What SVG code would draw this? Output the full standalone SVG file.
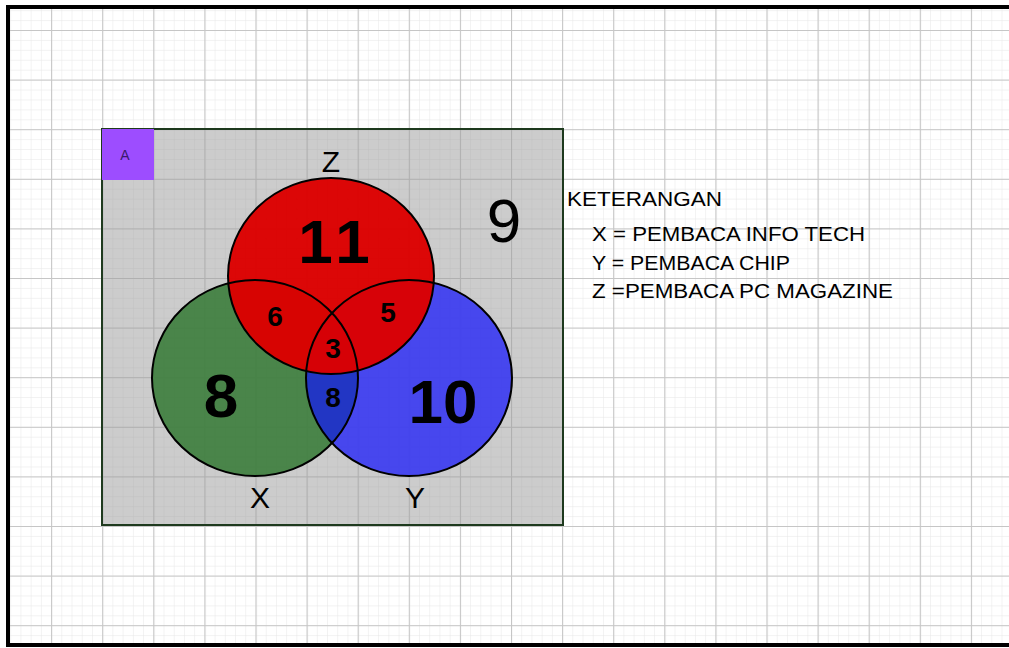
<svg xmlns="http://www.w3.org/2000/svg" width="1009" height="648" viewBox="0 0 1009 648">
<style>
text{font-family:"Liberation Sans",Arial,sans-serif;fill:#000}
.b{font-weight:bold}
.lbl{font-size:30px;text-anchor:middle}
.big{font-size:62px;text-anchor:middle}
.sm{font-size:28px;text-anchor:middle;font-weight:bold}
.leg{font-size:20px}
.ol{fill:none;stroke:#000;stroke-width:2}
</style>
<defs>
<pattern id="minor" x="0" y="30" width="10.22" height="9.92" patternUnits="userSpaceOnUse">
<path d="M0 0V9.92M0 0H10.22" fill="none" stroke="#e6e6e6" stroke-width="1"/>
</pattern>
<pattern id="major" x="0" y="30" width="51.1" height="49.6" patternUnits="userSpaceOnUse">
<path d="M0.5 0V49.6M0 0.5H51.1" fill="none" stroke="#c6c6c6" stroke-width="1.2"/>
</pattern>
<clipPath id="cX"><ellipse cx="255" cy="378" rx="103" ry="98"/></clipPath>
</defs>
<rect width="1009" height="648" fill="#fff"/>
<g id="grid">
<rect x="8" y="7" width="1003" height="638" fill="url(#minor)"/>
<rect x="8" y="7" width="1003" height="638" fill="url(#major)"/>
</g>
<rect id="frame" x="8" y="7" width="1010" height="638" fill="none" stroke="#000" stroke-width="4"/>
<g id="universe">
<rect x="102" y="129" width="461" height="396" fill="#9a9a9a" fill-opacity="0.5" stroke="#1e3a1e" stroke-width="2"/>
</g>
<g id="label-A">
<rect x="102" y="129" width="52" height="51" fill="#9d4dff"/>
<text x="125" y="160" font-size="14" text-anchor="middle" style="fill:#3a1a6a">A</text>
</g>
<g id="set-X">
<ellipse cx="255" cy="378" rx="103" ry="98" fill="#3f7f3f" fill-opacity="0.93"/>
</g>
<g id="set-Y">
<ellipse cx="409" cy="378" rx="103" ry="98" fill="#3c3cf0" fill-opacity="0.93"/>
<ellipse clip-path="url(#cX)" cx="409" cy="378" rx="103" ry="98" fill="#2236c4"/>
</g>
<g id="set-Z">
<ellipse cx="331" cy="276" rx="103" ry="98" fill="#dc0000" fill-opacity="0.97"/>
</g>
<g id="outlines">
<ellipse class="ol" cx="255" cy="378" rx="103" ry="98"/>
<ellipse class="ol" cx="409" cy="378" rx="103" ry="98"/>
<ellipse class="ol" cx="331" cy="276" rx="103" ry="98"/>
</g>
<g id="values">
<text class="lbl" x="331" y="172">Z</text>
<text class="lbl" x="260" y="508">X</text>
<text class="lbl" x="415" y="508">Y</text>
<text class="big b" x="337" y="263" font-size="60" letter-spacing="6">11</text>
<text class="big" x="504" y="242">9</text>
<text class="big b" x="221" y="417" font-size="58">8</text>
<text class="big b" x="443" y="423">10</text>
<text class="sm" x="275" y="326">6</text>
<text class="sm" x="388" y="322">5</text>
<text class="sm" x="333" y="358">3</text>
<text class="sm" x="333" y="407">8</text>
</g>
<g id="legend">
<text class="leg" x="567" y="206" textLength="155" lengthAdjust="spacingAndGlyphs">KETERANGAN</text>
<text class="leg" x="592" y="241" textLength="273" lengthAdjust="spacingAndGlyphs">X = PEMBACA INFO TECH</text>
<text class="leg" x="592" y="270" textLength="198" lengthAdjust="spacingAndGlyphs">Y = PEMBACA CHIP</text>
<text class="leg" x="592" y="298" textLength="301" lengthAdjust="spacingAndGlyphs">Z =PEMBACA PC MAGAZINE</text>
</g>
</svg>
